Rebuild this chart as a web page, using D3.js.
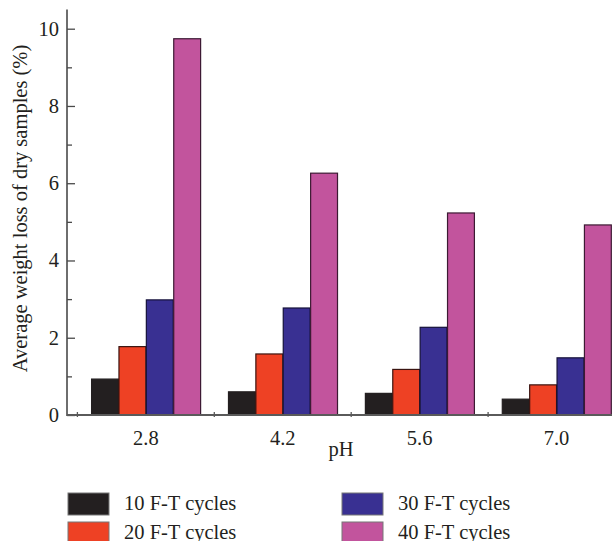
<!DOCTYPE html>
<html>
<head>
<meta charset="utf-8">
<script src="https://cdn.jsdelivr.net/npm/d3@7"></script>
<style>
  html, body { margin: 0; padding: 0; background: #fff; }
  svg { display: block; }
  text { font-family: "Liberation Serif", "DejaVu Serif", serif; fill: #231f20; }
</style>
</head>
<body>
<svg id="chart" width="612" height="541"></svg>
<script>
// pH levels of the acid solution
const categories = ["2.8", "4.2", "5.6", "7.0"];
// freeze-thaw cycle counts
const seriesNames = ["10 F-T cycles", "20 F-T cycles", "30 F-T cycles", "40 F-T cycles"];
// average weight loss (%) per pH, one array per cycle count
const cycles10 = [0.93, 0.60, 0.56, 0.41];
const cycles20 = [1.77, 1.58, 1.18, 0.78];
const cycles30 = [2.98, 2.77, 2.27, 1.48];
const cycles40 = [9.74, 6.26, 5.23, 4.92];
const yTicks = [0, 2, 4, 6, 8, 10];
const yMinorTicks = [1, 3, 5, 7, 9];

const seriesValues = [cycles10, cycles20, cycles30, cycles40];
const fills = ["#231f20", "#ee4124", "#393092", "#c2549d"];
const strokes = ["#231f20", "#3a1410", "#15113a", "#3c1a33"];
const fontSize = 20.5;

const svg = d3.select("#chart");

const x0 = d3.scaleBand().domain(categories).range([77.4, 625]).padding(0);
const x1 = d3.scaleBand().domain(d3.range(4))
  .range([x0.bandwidth() * 0.1, x0.bandwidth() * 0.9]).padding(0);
const y = d3.scaleLinear().domain([0, 10]).range([415, 28.7]);
const yTopExtent = y(10.5);
const axisX = 67;

// bars
const groups = svg.append("g").selectAll("g")
  .data(categories).join("g")
  .attr("transform", d => `translate(${x0(d)},0)`);

groups.selectAll("rect")
  .data((c, ci) => seriesValues.map((vals, si) => ({ si, v: vals[ci] })))
  .join("rect")
  .attr("x", d => x1(d.si) + 0.5)
  .attr("y", d => y(d.v))
  .attr("width", x1.bandwidth() - 0.5)
  .attr("height", d => y(0) - y(d.v))
  .attr("fill", d => fills[d.si])
  .attr("stroke", d => strokes[d.si])
  .attr("stroke-width", 1.2);

// y axis with inward ticks
const yAxis = d3.axisRight(y).tickValues(yTicks).tickSize(8).tickFormat("");
const gy = svg.append("g").attr("transform", `translate(${axisX},0)`).call(yAxis);
gy.select(".domain").remove();
gy.selectAll(".tick line").attr("stroke", "#4a4a4a").attr("stroke-width", 1.3);
svg.append("g").attr("transform", `translate(${axisX},0)`)
  .call(d3.axisRight(y).tickValues(yMinorTicks).tickSize(5).tickFormat(""))
  .call(g => g.select(".domain").remove())
  .selectAll(".tick line").attr("stroke", "#4a4a4a").attr("stroke-width", 1.3);
svg.append("line")
  .attr("x1", axisX).attr("x2", axisX)
  .attr("y1", yTopExtent).attr("y2", y(0) + 1)
  .attr("stroke", "#4a4a4a").attr("stroke-width", 1.6);

// y tick labels
svg.append("g").selectAll("text")
  .data(yTicks).join("text")
  .attr("x", 59)
  .attr("y", d => y(d))
  .attr("dy", "0.34em")
  .attr("text-anchor", "end")
  .attr("font-size", fontSize)
  .text(d => d);

// x axis baseline and boundary ticks
svg.append("line")
  .attr("x1", axisX).attr("x2", 612)
  .attr("y1", y(0)).attr("y2", y(0))
  .attr("stroke", "#5a5a5a").attr("stroke-width", 2);
const boundaries = categories.map(c => x0(c));
svg.append("g").selectAll("line")
  .data(boundaries).join("line")
  .attr("x1", d => d).attr("x2", d => d)
  .attr("y1", y(0) - 3).attr("y2", y(0) + 2)
  .attr("stroke", "#5a5a5a").attr("stroke-width", 1.3);

// category labels
svg.append("g").selectAll("text")
  .data(categories).join("text")
  .attr("x", d => x0(d) + x0.bandwidth() / 2)
  .attr("y", 444.5)
  .attr("text-anchor", "middle")
  .attr("font-size", fontSize)
  .text(d => d);

// axis titles
svg.append("text")
  .attr("x", 341).attr("y", 456)
  .attr("text-anchor", "middle")
  .attr("font-size", fontSize)
  .text("pH");

svg.append("text")
  .attr("transform", "translate(26.5,208.5) rotate(-90)")
  .attr("text-anchor", "middle")
  .attr("font-size", fontSize)
  .text("Average weight loss of dry samples (%)");

// legend
const legendPos = [
  { x: 68, y: 493 }, { x: 68, y: 522 },
  { x: 342, y: 493 }, { x: 342, y: 522 }
];
const legend = svg.append("g").selectAll("g")
  .data(seriesNames).join("g")
  .attr("transform", (d, i) => `translate(${legendPos[i].x},${legendPos[i].y})`);
legend.append("rect")
  .attr("width", 41).attr("height", 22)
  .attr("fill", (d, i) => fills[i])
  .attr("stroke", "#777").attr("stroke-width", 1);
legend.append("text")
  .attr("x", 56).attr("y", 16.5)
  .attr("font-size", fontSize)
  .text(d => d);
</script>
</body>
</html>
